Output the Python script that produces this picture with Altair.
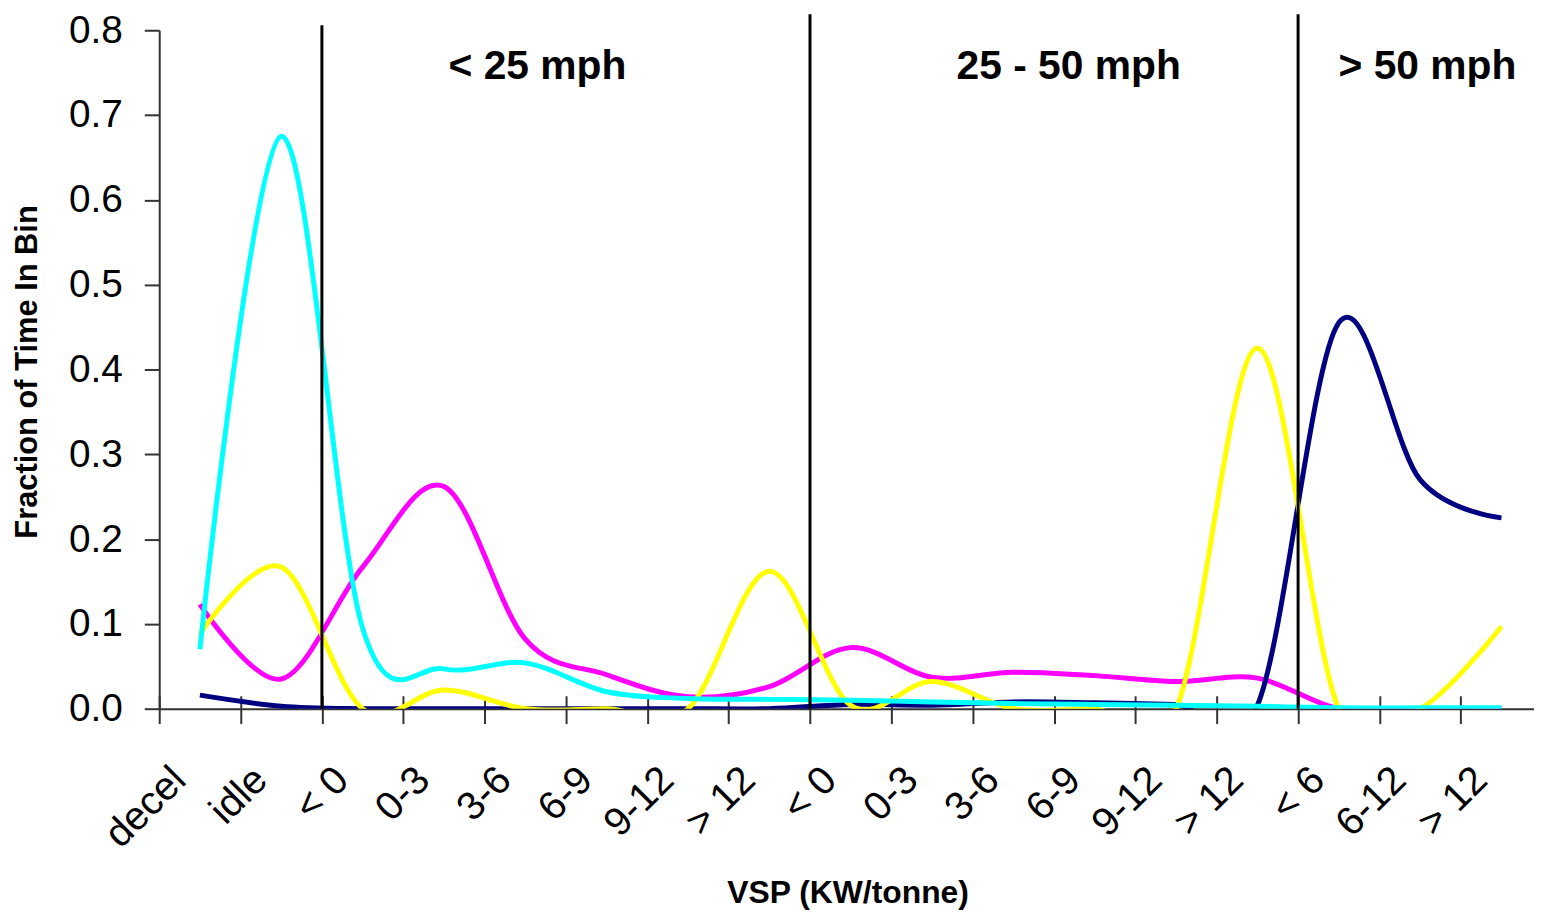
import altair as alt
import pandas as pd

# ---- data ----
categories = ["decel", "idle", "< 0", "0-3", "3-6", "6-9", "9-12", "> 12",
              "< 0", "0-3", "3-6", "6-9", "9-12", "> 12", "< 6", "6-12", "> 12"]

magenta = [0.123, 0.035, 0.167, 0.262, 0.082, 0.040, 0.014, 0.026,
           0.072, 0.037, 0.043, 0.039, 0.032, 0.036, 0.000, 0.000, 0.000]
navy = [0.016, 0.003, 0.000, 0.000, 0.000, 0.000, 0.000, 0.000,
        0.005, 0.004, 0.008, 0.007, 0.005, 0.004, 0.455, 0.270, 0.225]
yellow = [0.088, 0.167, 0.000, 0.022, 0.000, 0.000, 0.000, 0.162,
          0.004, 0.032, 0.000, 0.000, 0.000, 0.425, 0.000, 0.000, 0.097]
cyan = [0.070, 0.675, 0.095, 0.047, 0.054, 0.020, 0.012, 0.011,
        0.010, 0.008, 0.006, 0.005, 0.004, 0.003, 0.001, 0.001, 0.001]

series_names = ["magenta", "navy", "yellow", "cyan"]
series_values = [magenta, navy, yellow, cyan]
series_colors = ["#FF00FF", "#000080", "#FFFF00", "#00FFFF"]

separator_pos = [2, 8, 14]
separator_top = [0.806, 0.819, 0.819]

zone_labels = ["< 25 mph", "25 - 50 mph", "> 50 mph"]
zone_x = [4.65, 11.18, 15.59]
zone_y = [0.743, 0.743, 0.743]

y_ticks = [round(i * 0.1, 1) for i in range(9)]

# ---- chart ----
FONT = "Liberation Sans"
xscale = alt.Scale(domain=[0, 16.9], nice=False, zero=False)
yscale = alt.Scale(domain=[0, 0.8], nice=False, zero=False)

label_expr = "[" + ",".join("'" + c + "'" for c in categories) + "][floor(datum.value)]"

tick_axis = alt.Axis(
    orient="bottom", values=list(range(len(categories))), labels=False,
    domain=False, grid=False, ticks=True, tickSize=28, offset=-13,
    tickColor="#333333", tickWidth=2, title=None,
)
label_axis = alt.Axis(
    orient="bottom", values=[k + 0.5 for k in range(len(categories))],
    labelExpr=label_expr, labelAngle=-45, labelAlign="right",
    labelBaseline="middle", labelFont=FONT, labelFontSize=40,
    labelColor="black", labelPadding=65, labelOffset=-21,
    labelOverlap=False, labelFlush=False, ticks=False, tickSize=0,
    domain=True, domainColor="#333333", domainWidth=2, grid=False,
    title="VSP (KW/tonne)", titleFont=FONT, titleFontSize=32,
    titleFontWeight="bold", titleColor="black", titleX=692, titleY=195,
    titleAngle=0, titleAlign="center", titleBaseline="alphabetic",
)
y_axis = alt.Axis(
    orient="left", values=y_ticks, format=".1f", grid=False, tickSize=15,
    tickWidth=2, tickColor="#333333", domain=True, domainColor="#333333",
    domainWidth=2, labelFont=FONT, labelFontSize=39, labelColor="black",
    labelPadding=22,
    title="Fraction of Time In Bin", titleFont=FONT, titleFontSize=31,
    titleFontWeight="bold", titleColor="black", titleAngle=270,
    titleX=-123, titleY=343, titleAlign="center", titleBaseline="alphabetic",
)

layers = []
for i, (name, vals, col) in enumerate(zip(series_names, series_values, series_colors)):
    df = pd.DataFrame({"pos": [k + 0.5 for k in range(len(vals))], "value": vals})
    layers.append(
        alt.Chart(df).mark_line(
            color=col, strokeWidth=5, interpolate="cardinal", clip=True
        ).encode(
            x=alt.X("pos:Q", scale=xscale, axis=tick_axis if i == 0 else None),
            y=alt.Y("value:Q", scale=yscale, axis=y_axis if i == 0 else None),
        )
    )

sep_df = pd.DataFrame({"pos": separator_pos, "top": separator_top,
                       "bottom": [0.0] * len(separator_pos)})
rules = alt.Chart(sep_df).mark_rule(color="black", strokeWidth=3).encode(
    x=alt.X("pos:Q", scale=xscale, axis=label_axis),
    y=alt.Y("top:Q", scale=yscale, axis=None),
    y2="bottom:Q",
)

zone_df = pd.DataFrame({"label": zone_labels, "x": zone_x, "y": zone_y})
zones = alt.Chart(zone_df).mark_text(
    font=FONT, fontSize=41, fontWeight="bold", align="center",
    baseline="alphabetic", color="black",
).encode(
    x=alt.X("x:Q", scale=xscale, axis=None),
    y=alt.Y("y:Q", scale=yscale, axis=None),
    text="label:N",
)

chart = alt.layer(*layers, rules, zones).resolve_axis(
    x="independent", y="independent"
).properties(
    width=1382, height=682,
    autosize=alt.AutoSizeParams(type="none"),
    padding={"left": 152, "top": 20, "right": 0, "bottom": 200},
    background="white",
).configure(font=FONT).configure_view(stroke=None)

chart.save("out.html", embed_options={"renderer": "svg", "actions": False})
